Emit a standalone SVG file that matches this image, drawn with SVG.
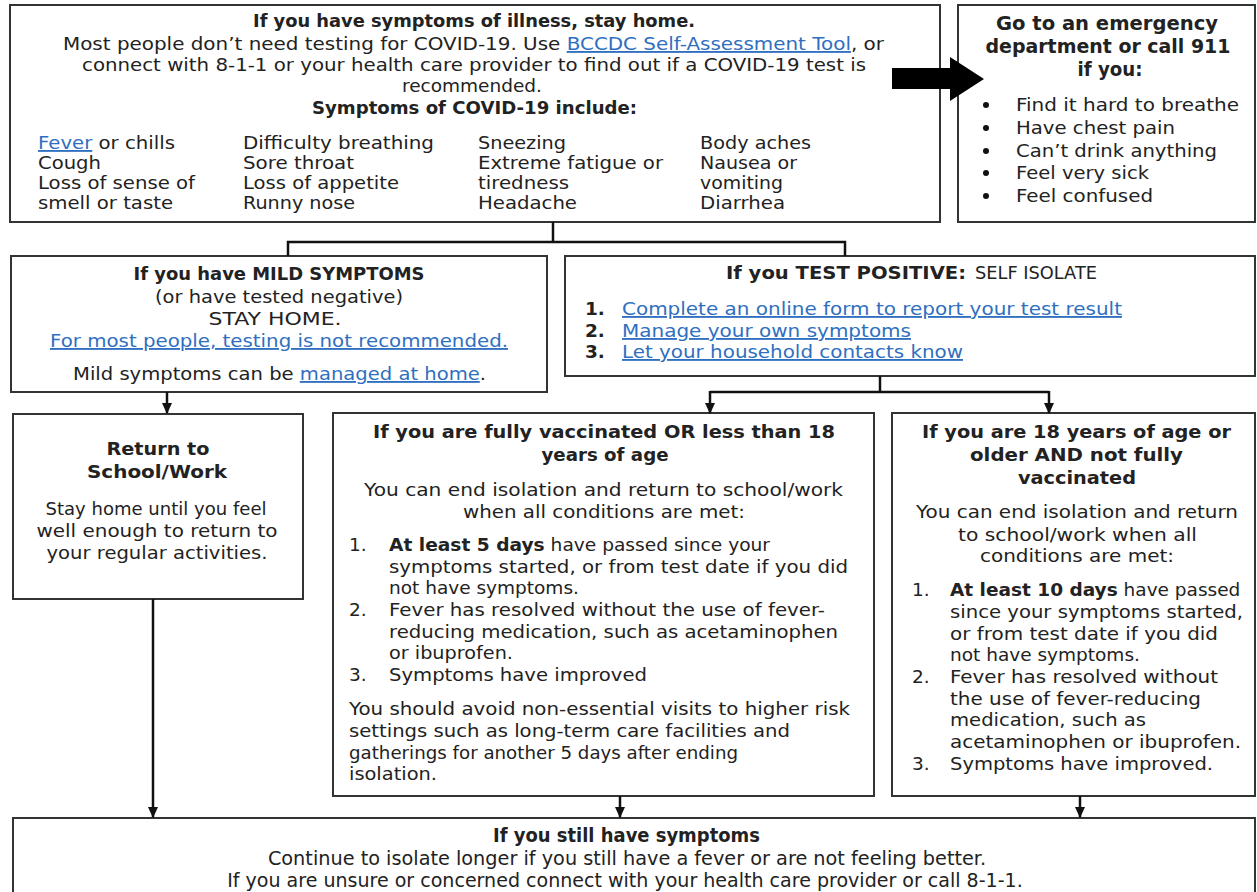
<svg xmlns="http://www.w3.org/2000/svg" width="1257" height="892" viewBox="0 0 1257 892">
<style>
text{font-family:"DejaVu Sans","Liberation Sans",sans-serif;font-size:18.5px;fill:#222}
.b{font-weight:bold}
.c{text-anchor:middle}
.l{fill:#2f6fbf;text-decoration:underline}
.box{fill:#fff;stroke:#333;stroke-width:2}
.con{fill:none;stroke:#111;stroke-width:2.5}
.bt{font-size:19.5px}
.sm{font-size:17px}
.ft{font-size:19px}
</style>
<defs>
<marker id="ah" markerUnits="userSpaceOnUse" markerWidth="12" markerHeight="12" viewBox="0 0 12 12" refX="10" refY="6" orient="auto">
<path d="M0,1 L11,6 L0,11 Z" fill="#111"/>
</marker>
</defs>
<rect width="1257" height="892" fill="#fff"/>

<g id="symptoms">
<rect class="box" x="10" y="5" width="930" height="217"/>
<text class="b c" x="474" y="27" textLength="442" lengthAdjust="spacingAndGlyphs">If you have symptoms of illness, stay home.</text>
<text class="c" x="473.5" y="50" textLength="821" lengthAdjust="spacingAndGlyphs">Most people don’t need testing for COVID-19. Use <tspan class="l">BCCDC Self-Assessment Tool</tspan>, or</text>
<text class="c" x="474" y="71" textLength="784" lengthAdjust="spacingAndGlyphs">connect with 8-1-1 or your health care provider to find out if a COVID-19 test is</text>
<text class="c" x="472" y="92">recommended.</text>
<text class="b c" x="474.5" y="114" textLength="325" lengthAdjust="spacingAndGlyphs">Symptoms of COVID-19 include:</text>
<text x="38" y="149" textLength="137" lengthAdjust="spacingAndGlyphs"><tspan class="l">Fever</tspan> or chills</text>
<text x="38" y="169" textLength="63" lengthAdjust="spacingAndGlyphs">Cough</text>
<text x="38" y="189" textLength="157" lengthAdjust="spacingAndGlyphs">Loss of sense of</text>
<text x="38" y="209" textLength="135" lengthAdjust="spacingAndGlyphs">smell or taste</text>
<text x="243" y="149" textLength="191" lengthAdjust="spacingAndGlyphs">Difficulty breathing</text>
<text x="243" y="169" textLength="111" lengthAdjust="spacingAndGlyphs">Sore throat</text>
<text x="243" y="189" textLength="156" lengthAdjust="spacingAndGlyphs">Loss of appetite</text>
<text x="243" y="209" textLength="112" lengthAdjust="spacingAndGlyphs">Runny nose</text>
<text x="478" y="149" textLength="88" lengthAdjust="spacingAndGlyphs">Sneezing</text>
<text x="478" y="169" textLength="185" lengthAdjust="spacingAndGlyphs">Extreme fatigue or</text>
<text x="478" y="189" textLength="91" lengthAdjust="spacingAndGlyphs">tiredness</text>
<text x="478" y="209" textLength="99" lengthAdjust="spacingAndGlyphs">Headache</text>
<text x="700" y="149" textLength="111" lengthAdjust="spacingAndGlyphs">Body aches</text>
<text x="700" y="169" textLength="97" lengthAdjust="spacingAndGlyphs">Nausea or</text>
<text x="700" y="189" textLength="83" lengthAdjust="spacingAndGlyphs">vomiting</text>
<text x="700" y="209" textLength="85" lengthAdjust="spacingAndGlyphs">Diarrhea</text>
</g>

<g id="emergency">
<rect class="box" x="958" y="5" width="297" height="217"/>
<text class="b c bt" x="1107" y="30" textLength="222" lengthAdjust="spacingAndGlyphs">Go to an emergency</text>
<text class="b c bt" x="1108" y="53" textLength="245" lengthAdjust="spacingAndGlyphs">department or call 911</text>
<text class="b c bt" x="1110" y="76" textLength="65" lengthAdjust="spacingAndGlyphs">if you:</text>
<circle cx="986" cy="105" r="3" fill="#111"/>
<circle cx="986" cy="128" r="3" fill="#111"/>
<circle cx="986" cy="151" r="3" fill="#111"/>
<circle cx="986" cy="173" r="3" fill="#111"/>
<circle cx="986" cy="196" r="3" fill="#111"/>
<text x="1016" y="111" textLength="223" lengthAdjust="spacingAndGlyphs">Find it hard to breathe</text>
<text x="1016" y="134" textLength="159" lengthAdjust="spacingAndGlyphs">Have chest pain</text>
<text x="1016" y="157" textLength="201" lengthAdjust="spacingAndGlyphs">Can’t drink anything</text>
<text x="1016" y="179" textLength="133" lengthAdjust="spacingAndGlyphs">Feel very sick</text>
<text x="1016" y="202" textLength="137" lengthAdjust="spacingAndGlyphs">Feel confused</text>
</g>

<g id="mild">
<rect class="box" x="11" y="256" width="536" height="136"/>
<text class="b c" x="279" y="280" textLength="291" lengthAdjust="spacingAndGlyphs">If you have MILD SYMPTOMS</text>
<text class="c" x="279" y="303" textLength="248" lengthAdjust="spacingAndGlyphs">(or have tested negative)</text>
<text class="c" x="275" y="325" textLength="133" lengthAdjust="spacingAndGlyphs">STAY HOME.</text>
<text class="c l" x="279" y="347" textLength="458" lengthAdjust="spacingAndGlyphs">For most people, testing is not recommended.</text>
<text class="c" x="279.5" y="380" textLength="413" lengthAdjust="spacingAndGlyphs">Mild symptoms can be <tspan class="l">managed at home</tspan>.</text>
</g>

<g id="positive">
<rect class="box" x="565" y="256" width="690" height="120"/>
<text class="b" x="726" y="279" textLength="240" lengthAdjust="spacingAndGlyphs">If you TEST POSITIVE:</text>
<text class="sm" x="975" y="279" textLength="122" lengthAdjust="spacingAndGlyphs">SELF ISOLATE</text>
<text class="b" x="585" y="315">1.</text>
<text class="b" x="585" y="337">2.</text>
<text class="b" x="585" y="358">3.</text>
<text class="l" x="622" y="315" textLength="500" lengthAdjust="spacingAndGlyphs">Complete an online form to report your test result</text>
<text class="l" x="622" y="337" textLength="289" lengthAdjust="spacingAndGlyphs">Manage your own symptoms</text>
<text class="l" x="622" y="358" textLength="341" lengthAdjust="spacingAndGlyphs">Let your household contacts know</text>
</g>

<g id="return">
<rect class="box" x="13" y="414" width="290" height="185"/>
<text class="b c" x="158" y="455" textLength="103" lengthAdjust="spacingAndGlyphs">Return to</text>
<text class="b c" x="157" y="478" textLength="140" lengthAdjust="spacingAndGlyphs">School/Work</text>
<text class="c" x="156" y="515" textLength="221" lengthAdjust="spacingAndGlyphs">Stay home until you feel</text>
<text class="c" x="157" y="537" textLength="241" lengthAdjust="spacingAndGlyphs">well enough to return to</text>
<text class="c" x="157" y="559" textLength="221" lengthAdjust="spacingAndGlyphs">your regular activities.</text>
</g>

<g id="vaccinated">
<rect class="box" x="333" y="413" width="541" height="383"/>
<text class="b c" x="604" y="438" textLength="462" lengthAdjust="spacingAndGlyphs">If you are fully vaccinated OR less than 18</text>
<text class="b c" x="605" y="461" textLength="127" lengthAdjust="spacingAndGlyphs">years of age</text>
<text class="c" x="603.5" y="496" textLength="479" lengthAdjust="spacingAndGlyphs">You can end isolation and return to school/work</text>
<text class="c" x="604" y="518" textLength="282" lengthAdjust="spacingAndGlyphs">when all conditions are met:</text>
<text x="349" y="551">1.</text>
<text x="349" y="616">2.</text>
<text x="349" y="681">3.</text>
<text x="389" y="551" textLength="381" lengthAdjust="spacingAndGlyphs"><tspan class="b">At least 5 days</tspan> have passed since your</text>
<text x="389" y="573" textLength="459" lengthAdjust="spacingAndGlyphs">symptoms started, or from test date if you did</text>
<text x="389" y="594">not have symptoms.</text>
<text x="389" y="616" textLength="436" lengthAdjust="spacingAndGlyphs">Fever has resolved without the use of fever-</text>
<text x="389" y="638" textLength="449" lengthAdjust="spacingAndGlyphs">reducing medication, such as acetaminophen</text>
<text x="389" y="659" textLength="124" lengthAdjust="spacingAndGlyphs">or ibuprofen.</text>
<text x="389" y="681" textLength="258" lengthAdjust="spacingAndGlyphs">Symptoms have improved</text>
<text x="349" y="715" textLength="501" lengthAdjust="spacingAndGlyphs">You should avoid non-essential visits to higher risk</text>
<text x="349" y="737" textLength="441" lengthAdjust="spacingAndGlyphs">settings such as long-term care facilities and</text>
<text x="349" y="759" textLength="389" lengthAdjust="spacingAndGlyphs">gatherings for another 5 days after ending</text>
<text x="349" y="780" textLength="88" lengthAdjust="spacingAndGlyphs">isolation.</text>
</g>

<g id="unvaccinated">
<rect class="box" x="892" y="413" width="363" height="383"/>
<text class="b c" x="1076.5" y="438" textLength="309" lengthAdjust="spacingAndGlyphs">If you are 18 years of age or</text>
<text class="b c" x="1076.5" y="461" textLength="213" lengthAdjust="spacingAndGlyphs">older AND not fully</text>
<text class="b c" x="1077" y="484" textLength="118" lengthAdjust="spacingAndGlyphs">vaccinated</text>
<text class="c" x="1077" y="518" textLength="322" lengthAdjust="spacingAndGlyphs">You can end isolation and return</text>
<text class="c" x="1077.5" y="541" textLength="239" lengthAdjust="spacingAndGlyphs">to school/work when all</text>
<text class="c" x="1077" y="562" textLength="194" lengthAdjust="spacingAndGlyphs">conditions are met:</text>
<text x="912" y="596">1.</text>
<text x="912" y="683">2.</text>
<text x="912" y="770">3.</text>
<text x="950" y="596"><tspan class="b">At least 10 days</tspan> have passed</text>
<text x="950" y="618" textLength="293" lengthAdjust="spacingAndGlyphs">since your symptoms started,</text>
<text x="950" y="640" textLength="268" lengthAdjust="spacingAndGlyphs">or from test date if you did</text>
<text x="950" y="661">not have symptoms.</text>
<text x="950" y="683" textLength="268" lengthAdjust="spacingAndGlyphs">Fever has resolved without</text>
<text x="950" y="705" textLength="251" lengthAdjust="spacingAndGlyphs">the use of fever-reducing</text>
<text x="950" y="726" textLength="196" lengthAdjust="spacingAndGlyphs">medication, such as</text>
<text x="950" y="748" textLength="291" lengthAdjust="spacingAndGlyphs">acetaminophen or ibuprofen.</text>
<text x="950" y="770" textLength="263" lengthAdjust="spacingAndGlyphs">Symptoms have improved.</text>
</g>

<g id="still-symptoms">
<rect class="box" x="13" y="818" width="1242" height="90"/>
<g transform="translate(627,0) scale(0.85,1)">
<text class="b c ft" x="-0.6" y="842" textLength="314" lengthAdjust="spacingAndGlyphs">If you still have symptoms</text>
<text class="c ft" x="0" y="865" textLength="845" lengthAdjust="spacingAndGlyphs">Continue to isolate longer if you still have a fever or are not feeling better.</text>
<text class="c ft" x="-2.4" y="887" textLength="936" lengthAdjust="spacingAndGlyphs">If you are unsure or concerned connect with your health care provider or call 8-1-1.</text>
</g>
</g>

<g id="connectors">
<polyline class="con" points="553,222 553,242"/>
<polyline class="con" points="288,256 288,242 845,242 845,256"/>
<polygon points="892,68 950,68 950,57 984,79 950,101 950,89 892,89" fill="#000"/>
<line class="con" x1="167" y1="392" x2="167" y2="413" marker-end="url(#ah)"/>
<polyline class="con" points="880,376 880,392"/>
<polyline class="con" points="710,392 1049,392"/>
<line class="con" x1="710" y1="391" x2="710" y2="413" marker-end="url(#ah)"/>
<line class="con" x1="1049" y1="391" x2="1049" y2="413" marker-end="url(#ah)"/>
<line class="con" x1="153" y1="599" x2="153" y2="817" marker-end="url(#ah)"/>
<line class="con" x1="620" y1="796" x2="620" y2="817" marker-end="url(#ah)"/>
<line class="con" x1="1080" y1="796" x2="1080" y2="817" marker-end="url(#ah)"/>
</g>
</svg>
